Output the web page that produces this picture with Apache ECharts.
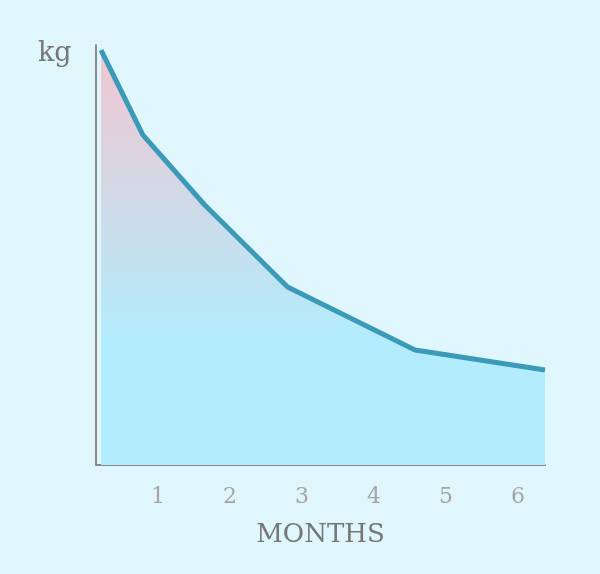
<!DOCTYPE html>
<html><head><meta charset="utf-8">
<script src="https://cdn.jsdelivr.net/npm/echarts@6/dist/echarts.min.js"></script>
<style>html,body{margin:0;background:#dff6fd}#c{width:600px;height:574px}</style>
</head><body><div id="c"></div>
<script>
const months = [0.21, 0.79, 1.65, 2.8, 4.57, 6.375];
const weight = [98.8, 78.6, 61.9, 42.4, 27.4, 22.6];
const tickLabels = [1, 2, 3, 4, 5, 6];
const chart = echarts.init(document.getElementById('c'));
chart.setOption({
  backgroundColor: '#dff6fd',
  grid: {left: 96, right: 55, top: 45, bottom: 109},
  xAxis: {type: 'value', min: 0.14, max: 6.375,
    axisLine: {lineStyle: {color: '#8a8a8a', width: 2}},
    axisTick: {show: false}, splitLine: {show: false},
    axisLabel: {customValues: tickLabels, color: '#a5a5a5', fontSize: 22, fontFamily: 'DejaVu Serif', margin: 21},
    name: 'MONTHS', nameLocation: 'middle', nameGap: 57,
    nameTextStyle: {color: '#777', fontSize: 26, fontFamily: 'DejaVu Serif'}},
  yAxis: {type: 'value', min: 0, max: 100,
    axisLine: {show: true, lineStyle: {color: '#8a8a8a', width: 2}},
    axisTick: {show: false}, splitLine: {show: false}, axisLabel: {show: false}},
  graphic: [{type: 'text', left: 38, top: 40, style: {text: 'kg', fill: '#777', fontSize: 27, fontFamily: 'DejaVu Serif'}}],
  series: [{type: 'line', data: months.map((m, i) => [m, weight[i]]), showSymbol: false,
    lineStyle: {color: '#3a9ab8', width: 5},
    areaStyle: {opacity: 1, color: new echarts.graphic.LinearGradient(0, 0, 0, 1, [
      {offset: 0, color: '#f2c6cf'}, {offset: 0.7, color: '#b2ecfd'}, {offset: 1, color: '#b2ecfd'}])}
  }]
});
</script></body></html>
